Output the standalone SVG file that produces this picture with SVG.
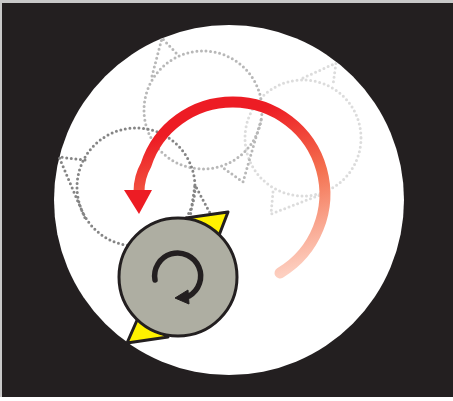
<svg xmlns="http://www.w3.org/2000/svg" width="453" height="401" viewBox="0 0 453 401">
<defs>
<linearGradient id="fade" gradientUnits="userSpaceOnUse" x1="255" y1="110" x2="300" y2="270">
<stop offset="0" stop-color="#ed1c24"/>
<stop offset="0.45" stop-color="#f4704f"/>
<stop offset="1" stop-color="#fdcfc0"/>
</linearGradient>
</defs>
<style>
.d{fill:none;stroke-width:3;stroke-linecap:round;stroke-dasharray:0 4.6}
.g1{stroke:#858585}.g2{stroke:#b8b8b8}.g3{stroke:#dcdcdc}
.o{stroke:#231f20;stroke-width:3;stroke-linejoin:round}
</style>
<rect width="453" height="401" fill="#fff"/>
<rect x="0" y="0" width="453" height="3" fill="#c8c8c8"/>
<rect x="0" y="0" width="2" height="397" fill="#c8c8c8"/>
<rect x="2" y="3" width="451" height="394" fill="#231f20"/>
<circle id="disc" cx="229" cy="200" r="175" fill="#fff"/>
<g id="ghost-3" class="d g3">
<circle cx="303" cy="138" r="58"/>
<path d="M303 78 336 63 333 85M273 192 271 214 320 195"/>
</g>
<g id="ghost-2" class="d g2">
<circle cx="203" cy="110" r="59"/>
<path d="M152 76 162 38 178 55M261 120 243 182 222 167"/>
</g>
<g id="ghost-1" class="d g1">
<circle cx="136" cy="187" r="59"/>
<path d="M85 160 59 157 85 218M190 218 195 185 211 215"/>
</g>
<g id="connectors">
<path d="M280 273A92 92 0 0 0 233 102A91 91 0 0 0 146 165C142 172 139 182 139 192" fill="none" stroke="url(#fade)" stroke-width="11" stroke-linecap="round"/>
<path d="M124 190H152L139 214Z" fill="#ed1c24"/>
</g>
<g id="gear">
<path class="o" d="M228 212 186 218 218 238ZM127 343 168 337 138 318Z" fill="#fff200"/>
<circle class="o" cx="178" cy="277" r="59" fill="#aeaea2"/>
<path d="M155 280A23 23 0 1 1 189 296" fill="none" stroke="#231f20" stroke-width="5.5" stroke-linecap="round"/>
<path d="M175 298 188 290 189 304Z" fill="#231f20" stroke="#231f20" stroke-width="1"/>
</g>
</svg>
